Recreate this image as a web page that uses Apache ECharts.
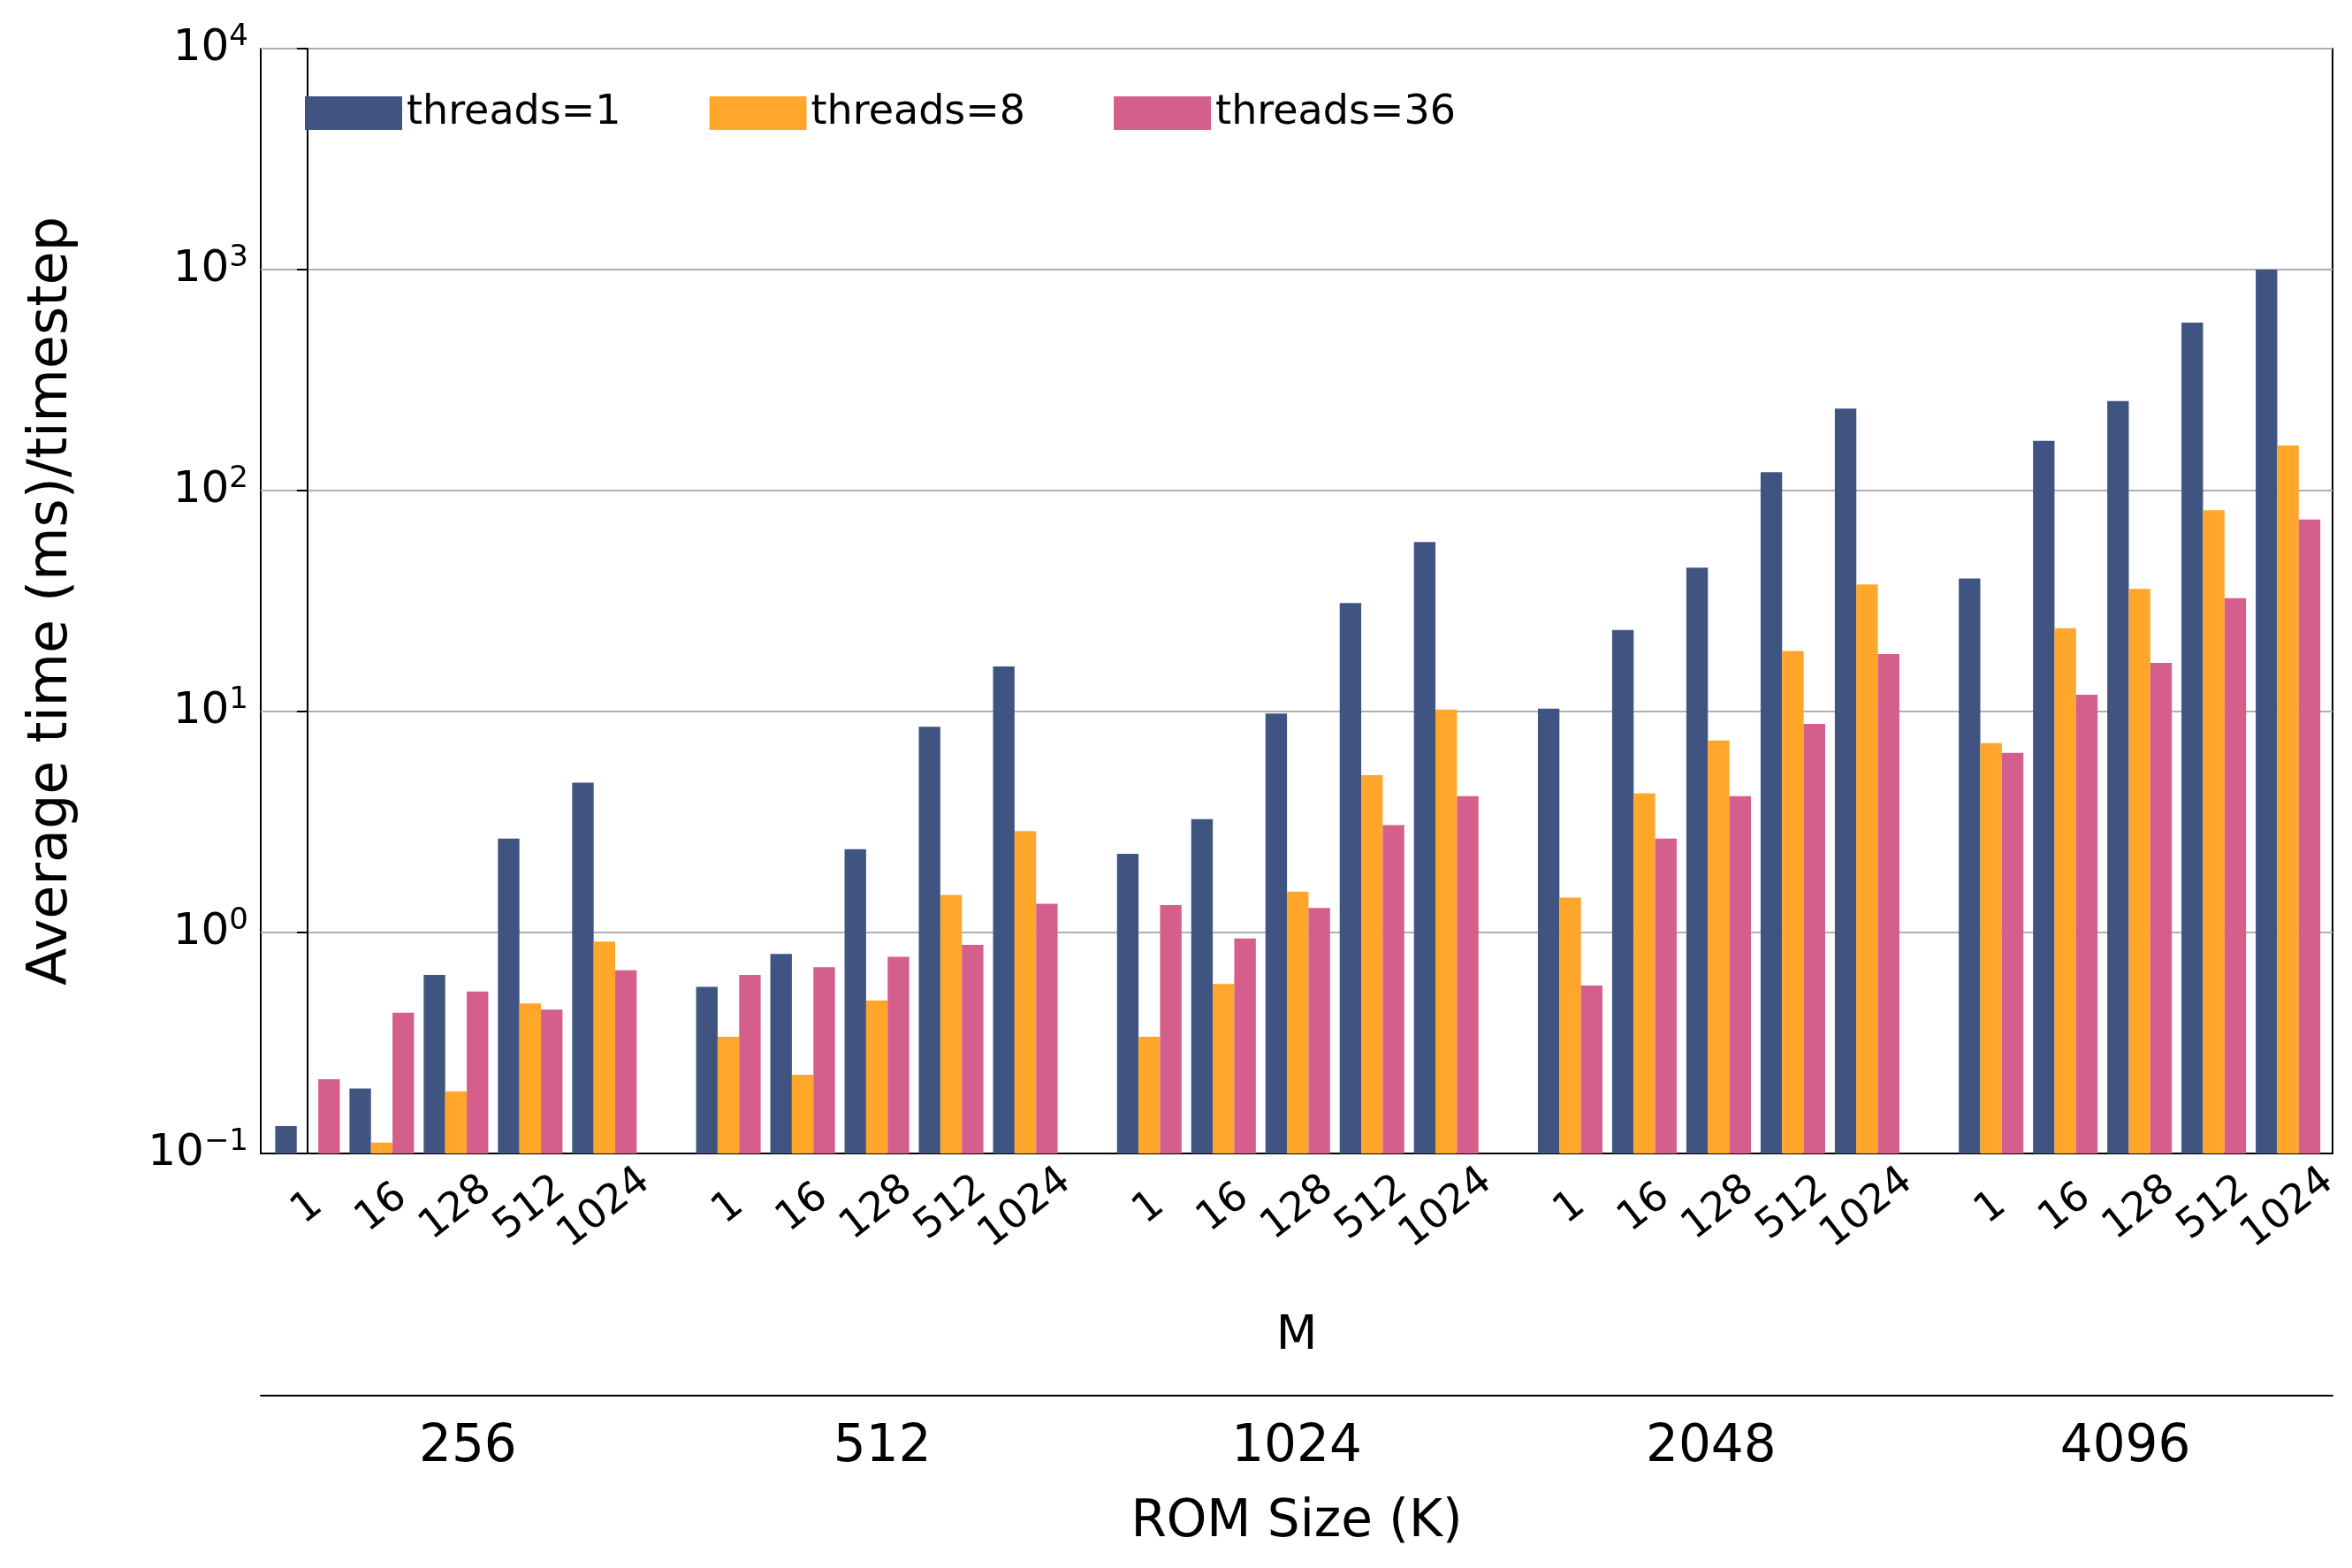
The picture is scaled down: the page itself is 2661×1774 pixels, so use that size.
<!DOCTYPE html>
<html><head><meta charset="utf-8">
<script src="https://cdn.jsdelivr.net/npm/echarts@6/dist/echarts.min.js"></script>
<style>html,body{margin:0;padding:0;background:#fff}#chartmain{width:2661px;height:1774px}</style>
</head><body><div id="chartmain"></div>
<script>
var romSizes = ['256', '512', '1024', '2048', '4096'];
var mValues = ['1', '16', '128', '512', '1024'];
// values per ROM size, each row is M = 1,16,128,512,1024
var threads1 = [
  [0.133, 0.197, 0.643, 2.66, 4.76],
  [0.567, 0.80, 2.38, 8.54, 16.0],
  [2.27, 3.26, 9.8, 31, 58.5],
  [10.3, 23.4, 44.8, 121, 235],
  [40, 168, 254, 575, 1000]
];
var threads8 = [
  [null, 0.112, 0.191, 0.477, 0.91],
  [0.337, 0.227, 0.492, 1.48, 2.88],
  [0.337, 0.585, 1.53, 5.15, 10.2],
  [1.44, 4.27, 7.4, 18.8, 37.6],
  [7.2, 23.8, 35.9, 81.5, 160]
];
var threads36 = [
  [0.217, 0.434, 0.541, 0.448, 0.674],
  [0.643, 0.696, 0.777, 0.88, 1.35],
  [1.33, 0.94, 1.29, 3.06, 4.14],
  [0.576, 2.66, 4.14, 8.8, 18.2],
  [6.5, 11.9, 16.6, 32.6, 74]
];

var groupStep = 5.67;
function pos(g, m) { return g * groupStep + m; }
function toData(arr) {
  var out = [];
  arr.forEach(function (row, g) {
    row.forEach(function (v, m) { if (v != null) out.push([pos(g, m), v]); });
  });
  return out;
}
var labelData = [];
romSizes.forEach(function (r, g) {
  mValues.forEach(function (m, i) { labelData.push([pos(g, i), 0.1, m]); });
});

var barW = 0.29;
function barSeries(name, arr, off, color) {
  return {
    name: name, type: 'custom', xAxisIndex: 0, yAxisIndex: 0,
    itemStyle: { color: color },
    data: toData(arr),
    renderItem: function (params, api) {
      var x = api.value(0) + off;
      var top = api.coord([x, api.value(1)]);
      var base = api.coord([x, 0.1]);
      var w = api.size([barW, 0])[0];
      return { type: 'rect', shape: { x: top[0] - w / 2, y: top[1], width: w, height: base[1] - top[1] },
               style: { fill: color } };
    }
  };
}

var option = {
  animation: false,
  textStyle: { fontFamily: 'DejaVu Sans' },
  grid: [
    { left: 295, right: 22, top: 55, bottom: 469, show: true, borderColor: '#000', borderWidth: 2 },
    { left: 295, right: 22, top: 1579, height: 0 }
  ],
  legend: {
    left: 340, top: 100, itemWidth: 110, itemHeight: 38, itemGap: 100, icon: 'rect',
    data: ['threads=1', 'threads=8', 'threads=36'],
    textStyle: { fontSize: 46, color: '#000', fontFamily: 'DejaVu Sans' }
  },
  xAxis: [
    { type: 'value', gridIndex: 0, min: -0.63, max: 4 * groupStep + 4.6,
      axisLine: { lineStyle: { color: '#000', width: 2 } }, axisTick: { show: false },
      axisLabel: { show: false }, splitLine: { show: false },
      name: 'M', nameLocation: 'middle', nameGap: 180,
      nameTextStyle: { fontSize: 54, color: '#000' } },
    { type: 'category', gridIndex: 1, data: romSizes, position: 'bottom',
      axisLine: { lineStyle: { color: '#000', width: 2 } }, axisTick: { show: false },
      axisLabel: { fontSize: 58, color: '#000', margin: 30 },
      name: 'ROM Size (K)', nameLocation: 'middle', nameGap: 115,
      nameTextStyle: { fontSize: 58, color: '#000' } }
  ],
  yAxis: [
    { type: 'log', logBase: 10, gridIndex: 0, min: 0.1, max: 10000,
      axisLine: { show: true, lineStyle: { color: '#000', width: 2 } },
      axisTick: { show: true, length: 12, lineStyle: { color: '#000', width: 2 } },
      splitLine: { show: true, lineStyle: { color: '#b0b0b0', width: 2 } },
      axisLabel: { fontSize: 50, color: '#000', margin: 14,
        formatter: function (v) {
          var e = Math.round(Math.log10(v));
          return '10{s|' + (e < 0 ? '\u2212' + (-e) : e) + '}';
        },
        rich: { s: { fontSize: 34, verticalAlign: 'top', padding: [0, 0, 26, 0], color: '#000' } } },
      name: 'Average time (ms)/timestep', nameLocation: 'middle', nameGap: 205,
      nameTextStyle: { fontSize: 62, color: '#000' } },
    { type: 'value', gridIndex: 1, show: false }
  ],
  series: [
    barSeries('threads=1', threads1, -barW, '#405482'),
    barSeries('threads=8', threads8, 0, '#ffa62b'),
    barSeries('threads=36', threads36, barW, '#d45f8c'),
    { type: 'custom', xAxisIndex: 0, yAxisIndex: 0, clip: false, data: labelData,
      renderItem: function (params, api) {
        var p = api.coord([api.value(0), 0.1]);
        return { type: 'text', x: p[0], y: p[1] + 62, rotation: 38 * Math.PI / 180,
          style: { text: labelData[params.dataIndex][2], align: 'center', verticalAlign: 'middle',
                   fontSize: 46, fontFamily: 'DejaVu Sans', fill: '#000' } };
      } }
  ]
};
var myChart = echarts.init(document.getElementById('chartmain'));
myChart.setOption(option);
</script></body></html>
